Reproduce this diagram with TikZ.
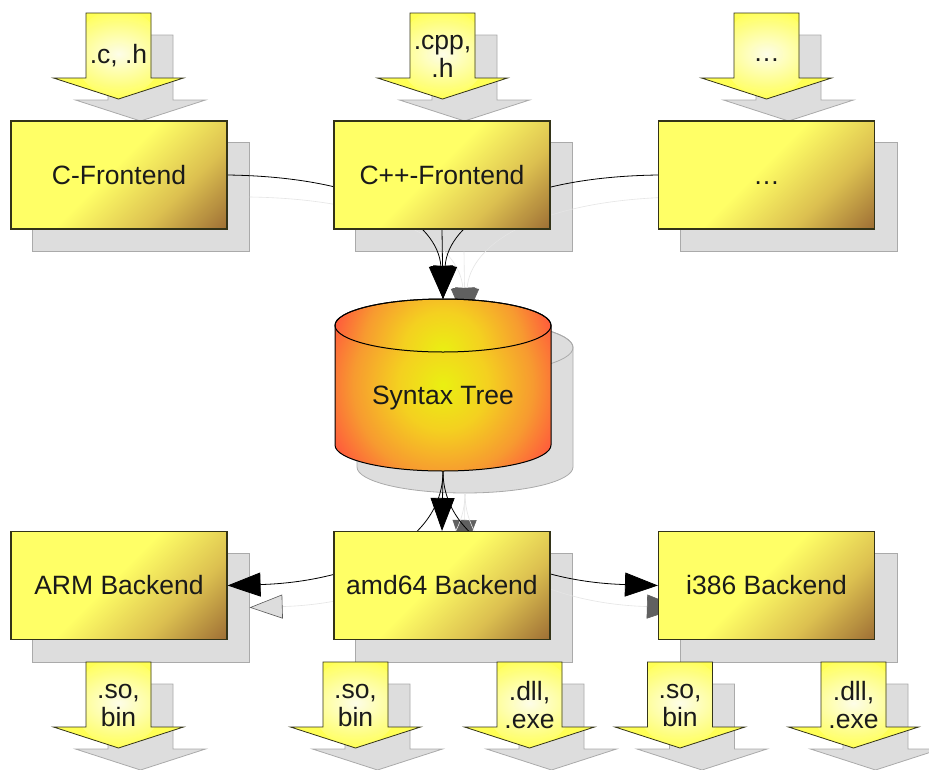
\documentclass[tikz,border=0pt]{standalone}
\usepackage{fontspec}
\setmainfont{Liberation Sans}
\usetikzlibrary{arrows.meta}
\definecolor{byel}{HTML}{FFFF66}
\definecolor{bmid}{HTML}{DCC050}
\definecolor{bbrown}{HTML}{9C6C34}
\definecolor{boxline}{HTML}{333318}
\definecolor{ayel}{HTML}{FFFF55}
\definecolor{ainner}{HTML}{FDFDE8}
\definecolor{cyY}{HTML}{EAF012}
\definecolor{cyY2}{HTML}{F4D020}
\definecolor{cyO}{HTML}{F79A30}
\definecolor{cyR}{HTML}{FF5A3C}
\definecolor{shfill}{HTML}{DDDDDD}
\definecolor{shline}{HTML}{AAAAAA}
\definecolor{tipgray}{HTML}{606060}
\definecolor{txt}{HTML}{1A1A1A}
\pgfdeclarehorizontalshading{boxsh}{100bp}{color(0bp)=(byel); color(48bp)=(byel); color(63bp)=(bmid); color(77bp)=(bbrown); color(100bp)=(bbrown)}
\pgfdeclareradialshading{cylsh}{\pgfpoint{0bp}{0bp}}{color(0bp)=(cyY); color(9bp)=(cyY2); color(18bp)=(cyO); color(25bp)=(cyR); color(50bp)=(cyR)}
\pgfdeclarelayer{shadow}
\pgfdeclarelayer{shconn}
\pgfdeclarelayer{conn}
\pgfsetlayers{shadow,shconn,conn,main}
\newcommand\btext{\fontsize{26.5pt}{28pt}\selectfont}
\newcommand\arrshape[3]{\draw[#1] ({#2-32.5},{#3}) -- ({#2+32.5},{#3}) -- ({#2+32.5},{#3+65}) -- ({#2+65},{#3+65}) -- ({#2},{#3+86}) -- ({#2-65},{#3+65}) -- ({#2-32.5},{#3+65}) -- cycle;}
\newcommand\fatarr[4]{%
  \begin{pgfonlayer}{shadow}\arrshape{shadowsty}{#2+22}{#3+22}\end{pgfonlayer}
  \arrshape{arrowsty, path picture={\shade[inner color=ainner, outer color=ayel] (#2,{#3+40}) circle (44);}}{#2}{#3}
  \node[atext] (#1) at (#2,{#3+43}) {#4};}
\begin{document}
\begin{tikzpicture}[x=1pt,y=-1pt,
  box/.style={draw=boxline, line width=1.1pt, minimum width=216pt, minimum height=108pt, inner sep=0pt, font=\btext, text=txt,
    path picture={\shade[shading=boxsh, shading angle=-45] ([shift={(-108,-108)}]path picture bounding box.center) rectangle ([shift={(108,108)}]path picture bounding box.center);}},
  shadowsty/.style={fill=shfill, draw=shline, line width=0.8pt},
  arrowsty/.style={fill=ayel, draw=boxline, line width=0.8pt},
  atext/.style={font=\btext, align=center, inner sep=0pt, text=txt},
  cylline/.style={draw=black, line width=1pt},
  conn/.style={draw=black, line width=0.8pt, -{Triangle[length=33pt,width=24pt]}},
  shconn/.style={draw=black!10, line width=0.6pt, -{Triangle[length=33pt,width=24pt,color=tipgray,fill=tipgray]}},
  shconnl/.style={draw=black!10, line width=0.6pt, -{Triangle[length=33pt,width=24pt,color=black!65,fill=shfill]}}
]
\begin{pgfonlayer}{shadow}
  \fill[white] (0,0) rectangle (929,769);
\end{pgfonlayer}
\useasboundingbox (0,0) rectangle (929,769);

% boxes
\node[box] (cf) at (119,175) {C-Frontend};
\node[box] (cpp) at (442,175) {C++-Frontend};
\node[box] (df) at (766.5,175) {\vphantom{C}…};
\node[box] (arm) at (119,585.5) {ARM Backend};
\node[box] (amd) at (442,585.5) {amd64 Backend};
\node[box] (i386) at (766.5,585.5) {i386 Backend};

% cylinder
\path[path picture={\shade[shading=cylsh] (443,385) circle (125);}]
  (335,325.5) -- (335,445) arc[start angle=180,end angle=0,x radius=108,y radius=26] -- (551,325.5) arc[start angle=0,end angle=-180,x radius=108,y radius=26.5] -- cycle;
\path[path picture={\shade[shading=cylsh] (443,352) circle (112);}]
  (443,325.5) ellipse [x radius=108, y radius=26.5];
\draw[cylline] (335,325.5) -- (335,445) arc[start angle=180,end angle=0,x radius=108,y radius=26] -- (551,325.5) arc[start angle=0,end angle=-180,x radius=108,y radius=26.5] -- cycle;
\draw[cylline] (443,325.5) ellipse [x radius=108, y radius=26.5];
\node[atext] (st) at (443,398) {Syntax Tree};
\coordinate (sttop) at (443,299);
\coordinate (stbot) at (443,471);

% shadows
\begin{pgfonlayer}{shadow}
  \foreach \n in {cf,cpp,df,arm,amd,i386}
    \draw[shadowsty] ([shift={(22,22)}]\n.north west) rectangle ([shift={(22,22)}]\n.south east);
  \draw[shadowsty] (357,347.5) -- (357,467) arc[start angle=180,end angle=0,x radius=108,y radius=26] -- (573,347.5) arc[start angle=0,end angle=-180,x radius=108,y radius=26.5] -- cycle;
  \draw[draw=shline, line width=0.8pt] (465,347.5) ellipse [x radius=108, y radius=26.5];
\end{pgfonlayer}

% shadow connectors
\begin{pgfonlayer}{shconn}
  \draw[shconn] ([shift={(22,22)}]cf.east) .. controls (392,199) and (460,244) .. ([shift={(22,22)}]sttop);
  \draw[shconn] ([shift={(22,22)}]cpp.south) -- ([shift={(22,22)}]sttop);
  \draw[shconn] ([shift={(22,22)}]df.west) .. controls (538,199) and (470,244) .. ([shift={(22,22)}]sttop);
  \draw[shconn] ([shift={(22,22)}]stbot) -- ([shift={(22,22)}]amd.north);
  \draw[shconnl] ([shift={(22,22)}]stbot) .. controls (465,567) and (372,604) .. ([shift={(22,22)}]arm.east);
  \draw[shconn] ([shift={(22,22)}]stbot) .. controls (465,567) and (558,604) .. ([shift={(22,22)}]i386.west);
\end{pgfonlayer}

% connectors
\begin{pgfonlayer}{conn}
  \draw[conn] (cf.east) .. controls (370,177) and (438,222) .. (sttop);
  \draw[conn] (cpp.south) -- (sttop);
  \draw[conn] (df.west) .. controls (516,177) and (448,222) .. (sttop);
  \draw[conn] (stbot) -- (amd.north);
  \draw[conn] (stbot) .. controls (443,545) and (350,582) .. (arm.east);
  \draw[conn] (stbot) .. controls (443,545) and (536,582) .. (i386.west);
\end{pgfonlayer}

% file arrows
\fatarr{ac}{118.5}{13}{.c, .h}
\fatarr{acpp}{442.5}{13}{.cpp,\\.h}
\fatarr{adots}{766.5}{13}{\strut …}
\fatarr{oarm}{118.5}{662}{.so,\\bin}
\fatarr{oamd1}{355.5}{662}{.so,\\bin}
\fatarr{oamd2}{529.5}{662}{.dll,\\.exe}
\fatarr{oi1}{680}{662}{.so,\\bin}
\fatarr{oi2}{853.5}{662}{.dll,\\.exe}
\end{tikzpicture}
\end{document}
